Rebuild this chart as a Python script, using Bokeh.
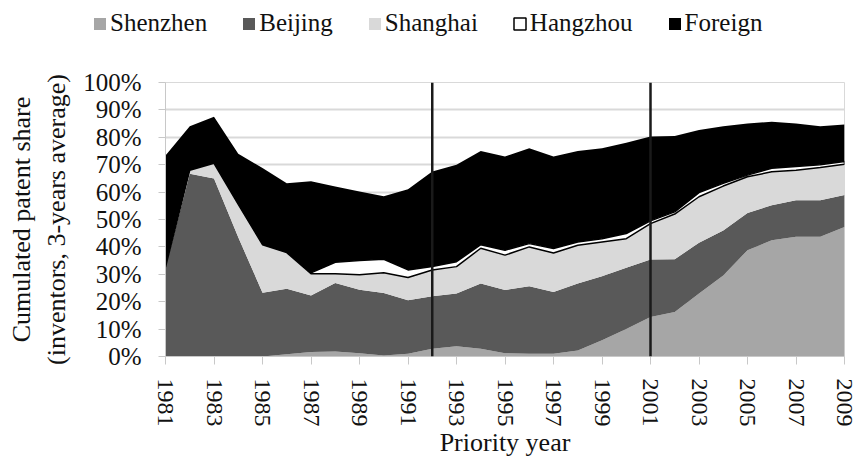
import numpy as np
from bokeh.plotting import figure
from bokeh.layouts import column
from bokeh.models import (Range1d, FixedTicker, PrintfTickFormatter, Span,
                          Legend, LegendItem, ColumnDataSource)
from bokeh.embed import file_html
from bokeh.resources import INLINE

years = [1981, 1982, 1983, 1984, 1985, 1986, 1987, 1988, 1989, 1990,
         1991, 1992, 1993, 1994, 1995, 1996, 1997, 1998, 1999, 2000,
         2001, 2002, 2003, 2004, 2005, 2006, 2007, 2008, 2009]

shenzhen = [0.0, 0.0, 0.0, 0.0, 0.0, 0.8, 1.6, 1.8, 1.2, 0.4,
            1.0, 2.8, 3.7, 2.8, 1.2, 1.0, 1.0, 2.2, 5.9, 10.0,
            14.4, 16.2, 23.0, 29.6, 38.8, 42.4, 43.7, 43.7, 47.3]
beijing = [32.6, 66.7, 65.0, 43.5, 23.3, 23.9, 20.7, 25.0, 23.2, 22.8,
           19.5, 19.2, 19.3, 23.8, 23.1, 24.6, 22.5, 24.4, 23.4, 22.4,
           21.0, 19.3, 18.5, 16.4, 13.6, 12.8, 13.3, 13.3, 11.6]
shanghai = [0.0, 1.3, 5.5, 12.0, 17.5, 13.2, 7.9, 3.4, 5.4, 7.4,
            8.3, 9.6, 9.8, 12.9, 12.7, 14.4, 14.3, 14.0, 12.5, 10.6,
            13.1, 16.5, 16.8, 16.2, 13.2, 12.2, 11.0, 12.0, 11.3]
hangzhou = [0.0, 0.0, 0.0, 0.0, 0.0, 0.0, 0.3, 4.2, 5.2, 4.9,
            2.8, 1.2, 1.8, 1.3, 1.8, 1.2, 1.6, 1.2, 1.2, 1.9,
            1.0, 0.8, 1.5, 1.0, 0.6, 1.3, 1.3, 1.0, 1.0]
foreign = [40.8, 16.0, 17.0, 18.5, 28.0, 25.3, 33.5, 27.6, 25.2, 23.0,
           29.4, 34.7, 35.4, 34.2, 34.2, 34.8, 33.6, 33.2, 33.0, 33.1,
           30.8, 27.7, 22.9, 20.8, 18.8, 17.0, 15.7, 14.0, 13.5]

series_names = ["Shenzhen", "Beijing", "Shanghai", "Hangzhou", "Foreign"]
x_ticks = [1981, 1983, 1985, 1987, 1989, 1991, 1993, 1995, 1997, 1999,
           2001, 2003, 2005, 2007, 2009]
y_ticks = [0, 10, 20, 30, 40, 50, 60, 70, 80, 90, 100]
marker_years = [1992, 2001]

fills = ["#a6a6a6", "#595959", "#d9d9d9", "#ffffff", "#000000"]
FONT = "'Liberation Serif', serif"
LEG_H = 44

src = ColumnDataSource(dict(year=years, Shenzhen=shenzhen, Beijing=beijing,
                            Shanghai=shanghai, Hangzhou=hangzhou, Foreign=foreign))

p = figure(width=858, height=468 - LEG_H, output_backend="svg", toolbar_location=None,
           x_range=Range1d(years[0], years[-1]), y_range=Range1d(0, 100),
           min_border_left=165, min_border_right=14, min_border_top=82 - LEG_H,
           min_border_bottom=112, background_fill_color="white",
           border_fill_color="white", outline_line_color="#d9d9d9")

p.varea_stack(stackers=series_names, x="year", color=fills, source=src)

# Hangzhou band: white fill with black border
below_h = np.array(shenzhen) + np.array(beijing) + np.array(shanghai)
above_h = below_h + np.array(hangzhou)
band_x = years + years[::-1]
band_y = list(above_h) + list(below_h[::-1])
p.patch(band_x, band_y, fill_color="#ffffff", line_color="#000000", line_width=1.5)

for yr in marker_years:
    p.add_layout(Span(location=yr, dimension="height", line_color="#1a1a1a",
                      line_width=2.5))

# grid
p.xgrid.visible = False
p.ygrid.ticker = FixedTicker(ticks=y_ticks)
p.ygrid.grid_line_color = "#d9d9d9"
p.ygrid.grid_line_width = 2

# y axis
p.yaxis.ticker = FixedTicker(ticks=y_ticks)
p.yaxis.formatter = PrintfTickFormatter(format="%d%%")
p.yaxis.major_label_text_font = FONT
p.yaxis.major_label_text_font_size = "25px"
p.yaxis.major_label_text_color = "#111111"
p.yaxis.major_label_standoff = 17
p.yaxis.major_tick_out = 7
p.yaxis.major_tick_in = 0
p.yaxis.minor_tick_out = 0
p.yaxis.minor_tick_in = 0
p.yaxis.axis_line_color = "#c8c8c8"
p.yaxis.major_tick_line_color = "#c8c8c8"
p.yaxis.axis_label = "Cumulated patent share\n(inventors, 3-years average)"
p.yaxis.axis_label_text_font = FONT
p.yaxis.axis_label_text_font_size = "26px"
p.yaxis.axis_label_text_font_style = "normal"
p.yaxis.axis_label_text_color = "#111111"
p.yaxis.axis_label_standoff = 9

# x axis
p.xaxis.ticker = FixedTicker(ticks=x_ticks)
p.xaxis.major_label_orientation = "vertical"
p.xaxis.major_label_text_font = FONT
p.xaxis.major_label_text_font_size = "24px"
p.xaxis.major_label_text_color = "#111111"
p.xaxis.major_label_standoff = 14
p.xaxis.major_tick_out = 8
p.xaxis.major_tick_in = 0
p.xaxis.minor_tick_out = 0
p.xaxis.minor_tick_in = 0
p.xaxis.axis_line_color = "#c8c8c8"
p.xaxis.major_tick_line_color = "#c8c8c8"
p.xaxis.axis_label = "Priority year"
p.xaxis.axis_label_text_font = FONT
p.xaxis.axis_label_text_font_size = "26px"
p.xaxis.axis_label_text_font_style = "normal"
p.xaxis.axis_label_text_color = "#111111"
p.xaxis.axis_label_standoff = -2

# legend strip: own small figure above the chart; it holds copies of the
# series renderers (out of its visible range) only to supply legend swatches
pl = figure(width=858, height=LEG_H, output_backend="svg", toolbar_location=None,
            x_range=Range1d(0, 1), y_range=Range1d(0, 1), min_border=0,
            x_axis_location=None, y_axis_location=None,
            outline_line_color=None, background_fill_color="white",
            border_fill_color="white")
pl.grid.visible = False
for fig in (p, pl):
    try:
        fig.frame_align = False
    except Exception:
        pass

leg_areas = pl.varea_stack(stackers=series_names, x="year", color=fills, source=src)
leg_hz = pl.patch(band_x, band_y, fill_color="#ffffff", line_color="#000000",
                  line_width=1.5)
leg_renderers = [leg_areas[0], leg_areas[1], leg_areas[2], leg_hz, leg_areas[4]]
items = [LegendItem(label=n, renderers=[r]) for n, r in zip(series_names, leg_renderers)]

legend = Legend(items=items, orientation="horizontal", location=(92, 7),
                glyph_width=15, glyph_height=15, label_standoff=3, spacing=34,
                padding=0, margin=0, border_line_alpha=0, background_fill_alpha=0,
                label_text_font=FONT, label_text_font_size="25px",
                label_text_color="#111111")
pl.add_layout(legend)

layout = column(pl, p, spacing=0)
open("out.html", "w").write(file_html(layout, INLINE))
